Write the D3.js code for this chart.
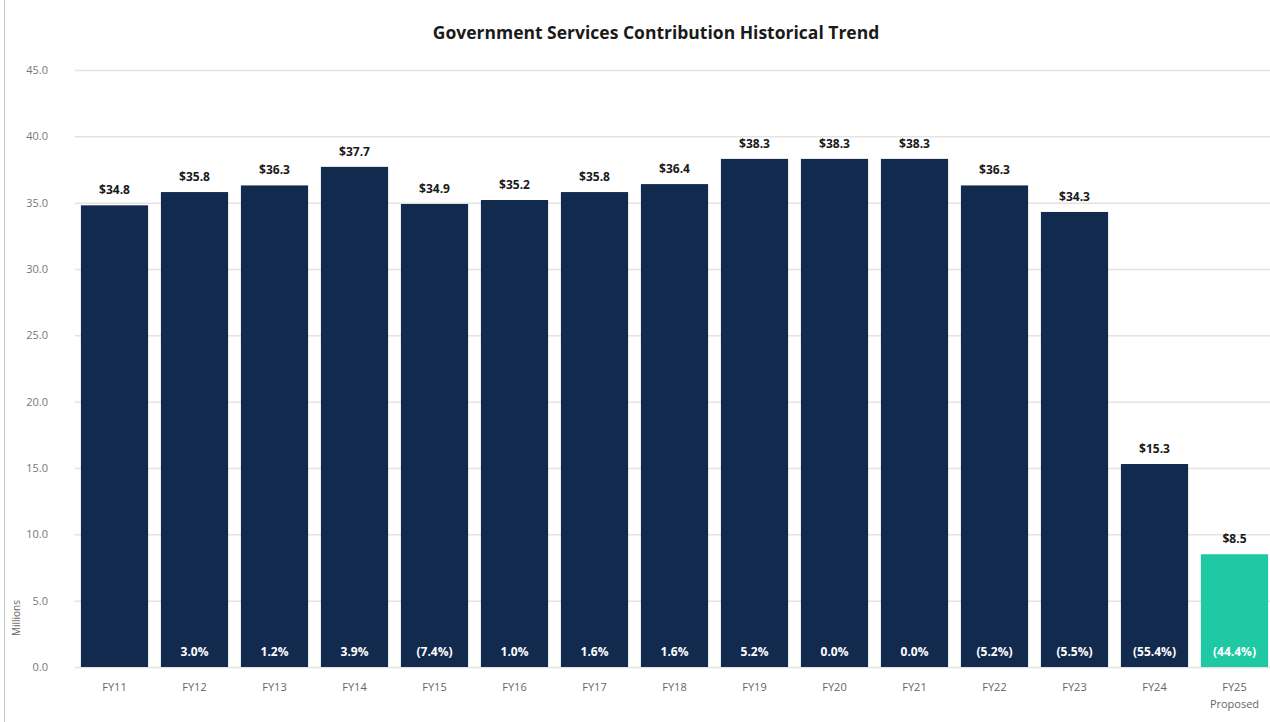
<!DOCTYPE html>
<html><head><meta charset="utf-8">
<script src="https://cdn.jsdelivr.net/npm/d3@7"></script>
<style>
body{margin:0;background:#fff;}
svg{display:block;}
text{font-family:"Open Sans","Lato",sans-serif;}
</style></head>
<body>
<svg id="chart" width="1270" height="722"></svg>
<script>
const categories = ["FY11","FY12","FY13","FY14","FY15","FY16","FY17","FY18","FY19","FY20","FY21","FY22","FY23","FY24","FY25"];
const subLabels = ["","","","","","","","","","","","","","","Proposed"];
const values = [34.8,35.8,36.3,37.7,34.9,35.2,35.8,36.4,38.3,38.3,38.3,36.3,34.3,15.3,8.5];
const valueLabels = ["$34.8","$35.8","$36.3","$37.7","$34.9","$35.2","$35.8","$36.4","$38.3","$38.3","$38.3","$36.3","$34.3","$15.3","$8.5"];
const changeLabels = ["","3.0%","1.2%","3.9%","(7.4%)","1.0%","1.6%","1.6%","5.2%","0.0%","0.0%","(5.2%)","(5.5%)","(55.4%)","(44.4%)"];
const yTicks = [0,5,10,15,20,25,30,35,40,45];
const navy = "#132a4f", teal = "#1ec9a4";

const svg = d3.select("#chart");
const x = d3.scaleBand().domain(categories).range([74.5,1274.5]).paddingInner(0.16).paddingOuter(0.08);
const y = d3.scaleLinear().domain([0,45]).range([667,70]);

// border line left
svg.append("line").attr("x1",4.5).attr("x2",4.5).attr("y1",0).attr("y2",722).attr("stroke","#c8c8c8");

// grid
svg.append("g").selectAll("line").data(yTicks).join("line")
  .attr("x1",75).attr("x2",1270).attr("y1",d=>y(d)+0.5).attr("y2",d=>y(d)+0.5)
  .attr("stroke","#e3e3e3").attr("stroke-width",1.5);

// y labels
svg.append("g").selectAll("text").data(yTicks).join("text")
  .attr("x",48).attr("y",d=>y(d)+4).attr("text-anchor","end")
  .attr("font-size",11).attr("fill","#777").text(d=>d.toFixed(1));

svg.append("text").attr("transform","translate(20,618) rotate(-90)")
  .attr("text-anchor","middle").attr("font-size",10).attr("fill","#666").text("Millions");

// title
svg.append("text").attr("x",656).attr("y",39).attr("text-anchor","middle")
  .attr("font-size",17.5).attr("font-weight","bold").attr("fill","#1a1a1a")
  .text("Government Services Contribution Historical Trend");

// bars
svg.append("g").selectAll("rect").data(categories).join("rect")
  .attr("x",d=>x(d)).attr("width",x.bandwidth())
  .attr("y",(d,i)=>y(values[i])).attr("height",(d,i)=>y(0)-y(values[i]))
  .attr("fill",(d,i)=>i===categories.length-1?teal:navy);

// value labels
svg.append("g").selectAll("text").data(categories).join("text")
  .attr("x",d=>x(d)+x.bandwidth()/2).attr("y",(d,i)=>y(values[i])-11)
  .attr("text-anchor","middle").attr("font-size",12).attr("font-weight","bold").attr("fill","#1a1a1a")
  .text((d,i)=>valueLabels[i]);

// change labels
svg.append("g").selectAll("text").data(categories).join("text")
  .attr("x",d=>x(d)+x.bandwidth()/2).attr("y",656)
  .attr("text-anchor","middle").attr("font-size",12).attr("font-weight","bold").attr("fill","#fff")
  .text((d,i)=>changeLabels[i]);

// x labels
const xl = svg.append("g").selectAll("text").data(categories).join("text")
  .attr("x",d=>x(d)+x.bandwidth()/2).attr("y",691)
  .attr("text-anchor","middle").attr("font-size",11).attr("fill","#666");
xl.append("tspan").text(d=>d);
xl.append("tspan").attr("x",d=>x(d)+x.bandwidth()/2).attr("dy",17).text((d,i)=>subLabels[i]);
</script>
</body></html>
